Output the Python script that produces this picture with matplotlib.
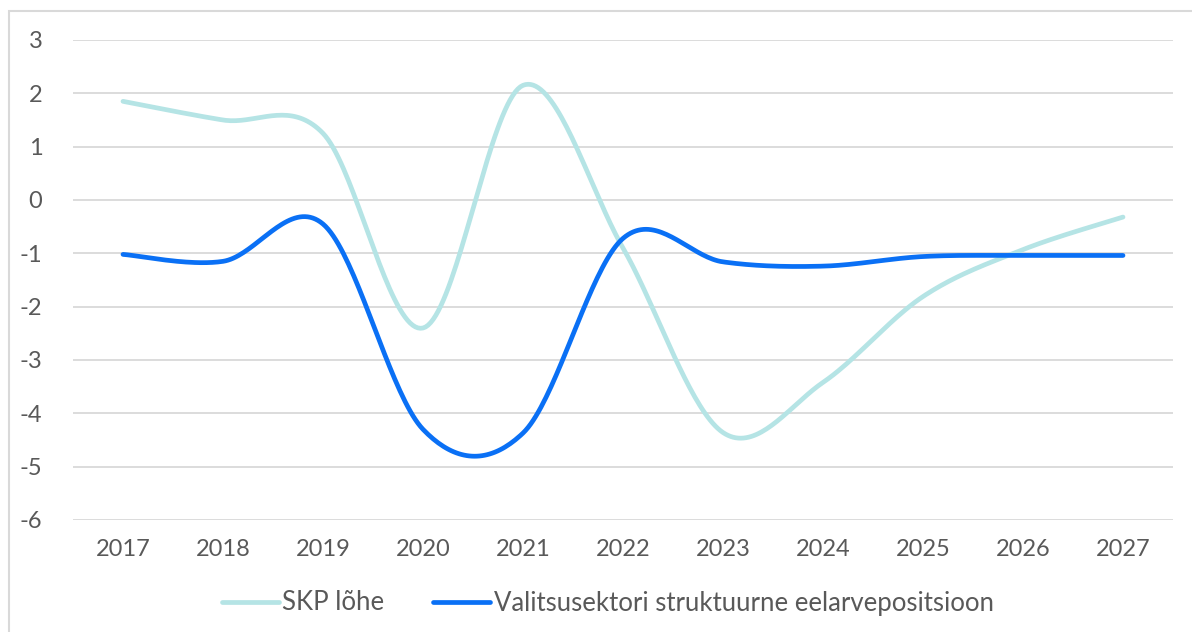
import numpy as np
import matplotlib
matplotlib.use("Agg")
import matplotlib.pyplot as plt
from matplotlib.patches import Rectangle

years = ["2017", "2018", "2019", "2020", "2021", "2022", "2023", "2024", "2025", "2026", "2027"]
skp_lohe = [1.85, 1.5, 1.25, -2.4, 2.15, -0.9, -4.36, -3.42, -1.81, -0.93, -0.32]
eelarve = [-1.02, -1.15, -0.45, -4.3, -4.37, -0.72, -1.16, -1.24, -1.06, -1.04, -1.04]

TEAL = "#B5E4E5"
BLUE = "#0A70F5"
GREY = "#595959"


def smooth(y, n=40):
    # Excel-style smoothed line (Catmull-Rom bezier through the points)
    x = np.arange(len(y), dtype=float)
    y = np.asarray(y, dtype=float)
    px = np.concatenate([[x[0]], x, [x[-1]]])
    py = np.concatenate([[y[0]], y, [y[-1]]])
    xs, ys = [], []
    t = np.linspace(0, 1, n)
    for i in range(1, len(px) - 2):
        p0 = np.array([px[i], py[i]])
        p3 = np.array([px[i + 1], py[i + 1]])
        p1 = p0 + (np.array([px[i + 1], py[i + 1]]) - np.array([px[i - 1], py[i - 1]])) / 6
        p2 = p3 - (np.array([px[i + 2], py[i + 2]]) - np.array([px[i], py[i]])) / 6
        b = ((1 - t) ** 3)[:, None] * p0 + (3 * (1 - t) ** 2 * t)[:, None] * p1 \
            + (3 * (1 - t) * t ** 2)[:, None] * p2 + (t ** 3)[:, None] * p3
        xs.append(b[:, 0])
        ys.append(b[:, 1])
    return np.concatenate(xs), np.concatenate(ys)


plt.rcParams["font.family"] = ["Lato", "DejaVu Sans"]

fig = plt.figure(figsize=(11.92, 6.32), dpi=100)
fig.patches.append(Rectangle((9 / 1192, -0.1), 1.2, 1 - 11 / 632 + 0.1,
                             transform=fig.transFigure, fill=False,
                             edgecolor="#D9D9D9", linewidth=1.5))

ax = fig.add_axes([73 / 1192, 1 - 520 / 632, 1100 / 1192, 480 / 632])

xs, ys = smooth(skp_lohe)
ax.plot(xs, ys, color=TEAL, linewidth=3.4, solid_capstyle="round", label="SKP lõhe")
xs, ys = smooth(eelarve)
ax.plot(xs, ys, color=BLUE, linewidth=3.4, solid_capstyle="round",
        label="Valitsusektori struktuurne eelarvepositsioon")

ax.set_xlim(-0.5, len(years) - 0.5)
ax.set_ylim(-6, 3)
ax.set_yticks(range(-6, 4))
ax.set_yticklabels([str(v) for v in range(-6, 4)])
ax.set_xticks(range(len(years)))
ax.set_xticklabels(years)
ax.grid(axis="y", color="#D9D9D9", linewidth=1.3)
ax.set_axisbelow(True)
for s in ax.spines.values():
    s.set_visible(False)
ax.tick_params(axis="both", length=0, labelsize=17, labelcolor=GREY)
ax.tick_params(axis="y", pad=22)
ax.tick_params(axis="x", pad=14)

leg = fig.legend(loc="center", bbox_to_anchor=(0.51, 1 - 603 / 632), ncol=2,
                 frameon=False, fontsize=18.5, handlelength=2.2, handletextpad=0.15,
                 columnspacing=1.9)
for t in leg.get_texts():
    t.set_color(GREY)

fig.savefig("out.png", dpi=100)
